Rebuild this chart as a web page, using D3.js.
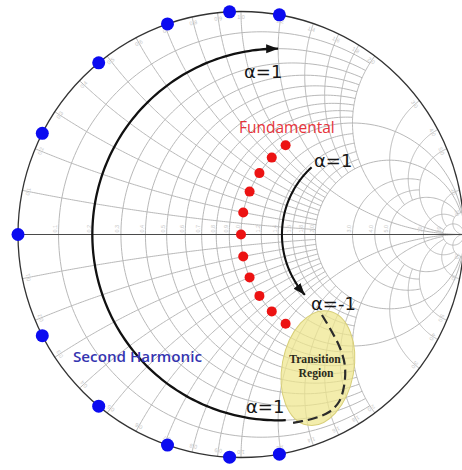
<!DOCTYPE html>
<html>
<head>
<meta charset="utf-8">
<script src="https://cdn.jsdelivr.net/npm/d3@7"></script>
<style>
  html, body { margin: 0; padding: 0; background: #fff; }
  svg { display: block; }
</style>
</head>
<body>
<svg id="chart" width="462" height="470"></svg>
<script>
// Smith chart grid: normalized values used for both resistance circles and reactance arcs
const gridValues = [0.1, 0.2, 0.3, 0.4, 0.5, 0.6, 0.7, 0.8, 0.9, 1, 1.2, 1.4, 1.6, 1.8, 2, 3, 4, 5, 10, 20];
// how far each grid line runs across the other family of lines
const gridExtent = [2, 2, 2, 2, 2, 2, 2, 2, 2, Infinity, 2, 2, 2, 2, 20, 5, 5, 20, 20, Infinity];

// second-harmonic terminations: pure reactances on the rim (r = 0)
const secondR = 0;
const secondX = [1.19, 0.95, 0.71, 0.47, 0.24, 0, -0.24, -0.47, -0.71, -0.95, -1.19];

// fundamental terminations along the r = 1 circle
const fundR = 1;
const fundX = [1.0, 0.8, 0.6, 0.4, 0.2, 0, -0.2, -0.4, -0.6, -0.8, -1.0];

// alpha sweeps: [resistance, start reactance, end reactance]
const secondSweep = [0.2, -1.25, 1.2];
const fundSweep = [1.45, 1.08, -0.93];

// transition path, reflection-coefficient plane (re, im)
const transitionPath = [
  [0.363, -0.361], [0.408, -0.437], [0.444, -0.509], [0.466, -0.590],
  [0.462, -0.680], [0.439, -0.751], [0.395, -0.796], [0.332, -0.823],
  [0.274, -0.837], [0.233, -0.845]
];
// transition region ellipse: centre (re, im), semi-axes, tilt in degrees
const regionCentre = [0.345, -0.599];
const regionAxes = [0.161, 0.26];
const regionTilt = 10.6;

const sweepLabels = ["α=1", "α=1", "α=-1", "α=1"];

// ---------------------------------------------------------------
const svg = d3.select("#chart");
const cx = 241, cy = 234.5, R = 223;
const gx = d3.scaleLinear().domain([-1, 1]).range([cx - R, cx + R]);
const gy = d3.scaleLinear().domain([-1, 1]).range([cy + R, cy - R]);

// reflection coefficient of normalized impedance r + jx
function gamma(r, x) {
  if (!isFinite(r) || !isFinite(x)) return [1, 0];
  const d = (r + 1) * (r + 1) + x * x;
  return [(r * r - 1 + x * x) / d, (2 * x) / d];
}

// constant-resistance circle between reactance limits
function rCurve(r, x0, x1, n = 160) {
  const u0 = Math.atan(x0 / (r + 1)), u1 = Math.atan(x1 / (r + 1));
  return d3.range(n + 1).map(i => {
    const u = u0 + (u1 - u0) * i / n;
    return gamma(r, (r + 1) * Math.tan(u));
  });
}

// constant-reactance arc from r = 0 up to rmax
function xCurve(x, rmax, n = 160) {
  const ax = Math.abs(x), s = Math.sign(x);
  const t0 = isFinite(rmax) ? Math.atan(ax / (rmax + 1)) : 0;
  const t1 = Math.atan(ax);
  return d3.range(n + 1).map(i => {
    const t = t0 + (t1 - t0) * i / n;
    if (t === 0) return [1, 0];
    const r = Math.max(0, ax / Math.tan(t) - 1);
    return gamma(r, s * ax);
  });
}

const line = d3.line().x(d => gx(d[0])).y(d => gy(d[1]));

// grid
const grid = svg.append("g").attr("fill", "none").attr("stroke", "#b4b4b4").attr("stroke-width", 0.95);
gridValues.forEach((v, i) => {
  const ext = gridExtent[i];
  const lim = isFinite(ext) ? ext : 1e9;
  grid.append("path").attr("d", line(rCurve(v, -lim, lim)));
  grid.append("path").attr("d", line(xCurve(v, ext)));
  grid.append("path").attr("d", line(xCurve(-v, ext)));
});

// faint scale labels along the real axis and around the rim
const fmt = v => (v < 10 ? d3.format(".1f")(v) : String(v));
const lab = svg.append("g").attr("fill", "#c6c6c6")
  .attr("font-family", "Liberation Sans, Arial, sans-serif").attr("font-size", 5.5);
gridValues.forEach(v => {
  const p = gamma(v, 0);
  lab.append("text")
    .attr("transform", `translate(${gx(p[0]) - 1.5},${gy(0) - 2}) rotate(-90)`)
    .text(fmt(v));
  [1, -1].forEach(s => {
    const th = Math.PI - 2 * Math.atan(v);
    const a = s * th;
    const rr = 0.965;
    const px = gx(rr * Math.cos(a)), py = gy(rr * Math.sin(a));
    const deg = -a * 180 / Math.PI + 90;
    lab.append("text")
      .attr("text-anchor", "middle")
      .attr("transform", `translate(${px},${py}) rotate(${deg})`)
      .text(fmt(v));
  });
});

// real axis and rim
svg.append("line")
  .attr("x1", gx(-1)).attr("x2", gx(1)).attr("y1", gy(0)).attr("y2", gy(0))
  .attr("stroke", "#4a4a4a").attr("stroke-width", 1.1);
svg.append("circle")
  .attr("cx", gx(0)).attr("cy", gy(0)).attr("r", gx(1) - gx(0))
  .attr("fill", "none").attr("stroke", "#333").attr("stroke-width", 1.3);

// transition region
const ecx = gx(regionCentre[0]), ecy = gy(regionCentre[1]);
svg.append("ellipse")
  .attr("cx", ecx).attr("cy", ecy)
  .attr("rx", gx(regionAxes[0]) - gx(0)).attr("ry", gy(0) - gy(regionAxes[1]))
  .attr("transform", `rotate(${regionTilt},${ecx},${ecy})`)
  .attr("fill", "#efe68c").attr("fill-opacity", 0.72)
  .attr("stroke", "#d8cf78").attr("stroke-width", 1);

svg.append("path")
  .attr("d", d3.line().x(d => gx(d[0])).y(d => gy(d[1])).curve(d3.curveCatmullRom)(transitionPath))
  .attr("fill", "none").attr("stroke", "#2b2b2b").attr("stroke-width", 2.2)
  .attr("stroke-dasharray", "10,5");

// arrow heads
const defs = svg.append("defs");
defs.append("marker").attr("id", "head")
  .attr("markerUnits", "userSpaceOnUse")
  .attr("markerWidth", 13).attr("markerHeight", 10)
  .attr("refX", 12).attr("refY", 4.5).attr("orient", "auto")
  .append("path").attr("d", "M0,0L12,4.5L0,9Z").attr("fill", "#111");

// alpha sweeps
svg.append("path")
  .attr("d", line(rCurve(secondSweep[0], secondSweep[1], secondSweep[2])))
  .attr("fill", "none").attr("stroke", "#111").attr("stroke-width", 2.3)
  .attr("marker-end", "url(#head)");
svg.append("path")
  .attr("d", line(rCurve(fundSweep[0], fundSweep[1], fundSweep[2])))
  .attr("fill", "none").attr("stroke", "#111").attr("stroke-width", 2.1)
  .attr("marker-end", "url(#head)");

// terminations
svg.append("g").selectAll("circle").data(secondX).join("circle")
  .attr("cx", x => gx(gamma(secondR, x)[0]))
  .attr("cy", x => gy(gamma(secondR, x)[1]))
  .attr("r", 6.5).attr("fill", "#0b0bf0");
svg.append("g").selectAll("circle").data(fundX).join("circle")
  .attr("cx", x => gx(gamma(fundR, x)[0]))
  .attr("cy", x => gy(gamma(fundR, x)[1]))
  .attr("r", 5).attr("fill", "#ec1313");

// labels
const alphaPos = [[244, 78], [314, 167], [311, 310], [246, 413]];
svg.append("g").selectAll("text").data(sweepLabels).join("text")
  .attr("x", (d, i) => alphaPos[i][0]).attr("y", (d, i) => alphaPos[i][1])
  .attr("font-family", "DejaVu Sans, sans-serif").attr("font-size", 18).attr("fill", "#161616")
  .text(d => d);

svg.append("text").attr("x", 239).attr("y", 133)
  .attr("font-family", "Open Sans, sans-serif").attr("font-size", 15.5)
  .attr("fill", "#e6333a").text("Fundamental");

svg.append("text").attr("x", 73).attr("y", 362)
  .attr("font-family", "Open Sans, sans-serif").attr("font-size", 15.2).attr("font-weight", 600)
  .attr("fill", "#3434b0").text("Second Harmonic");

const tr = svg.append("g").attr("font-family", "Liberation Serif, Times New Roman, serif")
  .attr("font-weight", "bold").attr("font-size", 11.6).attr("fill", "#2a2a1a")
  .attr("text-anchor", "middle");
tr.append("text").attr("x", 315).attr("y", 363).text("Transition");
tr.append("text").attr("x", 316).attr("y", 377).text("Region");
</script>
</body>
</html>
